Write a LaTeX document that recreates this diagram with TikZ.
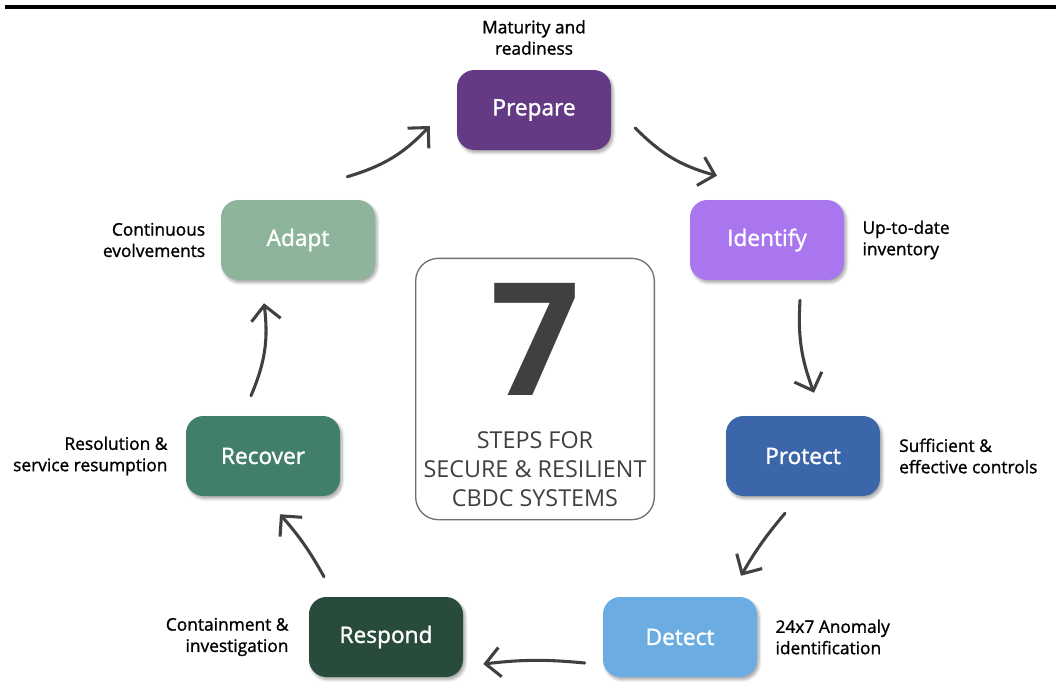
\documentclass[tikz,border=0pt]{standalone}
\usepackage{fontspec}
\setmainfont{Open Sans}
\newfontfamily\semib[FakeBold=1.3]{Open Sans}
\usepackage{tikz}
\usetikzlibrary{positioning}
\usetikzlibrary{calc}
\usetikzlibrary{arrows.meta}
\usetikzlibrary{shadows.blur}
\usepackage{xcolor}

\definecolor{cPrepare}{RGB}{100,58,132}
\definecolor{cIdentify}{RGB}{170,118,240}
\definecolor{cProtect}{RGB}{59,103,170}
\definecolor{cDetect}{RGB}{107,173,226}
\definecolor{cRespond}{RGB}{40,75,60}
\definecolor{cRecover}{RGB}{66,127,106}
\definecolor{cAdapt}{RGB}{142,180,156}
\definecolor{cArrow}{RGB}{64,64,64}
\definecolor{cFrame}{RGB}{112,112,112}

\tikzset{
  stepbox/.style={rounded corners=13pt, minimum width=115.5pt, minimum height=60pt,
    text=white, font=\semib\fontsize{17}{19}\selectfont,
    blur shadow={shadow xshift=1.5pt, shadow yshift=-2pt, shadow blur steps=6, shadow opacity=35}},
  note/.style={font=\semib\fontsize{13}{16}\selectfont, inner sep=0pt},
  cycle/.style={draw=cArrow, line width=2.3pt, line cap=round,
    -{Straight Barb[length=11pt, width=22pt, line width=2.3pt]}},
}

\begin{document}
\begin{tikzpicture}[x=0.75pt,y=0.75pt,yscale=-1,xscale=1]
\useasboundingbox (0,0) rectangle (1056,693);

%Straight Lines (top rule)
\draw [line width=2.4pt] (5,7) -- (1056,7) ;

%Shape: Rounded Rect (centre)
\node [draw=cFrame, line width=1pt, rounded corners=17pt, minimum width=179pt, minimum height=196pt] (centre) at (535,389) {};
% Text Node
\node [text=cArrow, font=\fontsize{118}{118}\selectfont\bfseries, inner sep=0pt] (seven) at (535,339) {7};
% Text Node
\node [text=cArrow, font=\fontsize{17.5}{21.75}\selectfont, align=center, inner sep=0pt] (steps) at (535,469) {STEPS FOR\\SECURE \& RESILIENT\\CBDC SYSTEMS};

%Shape: Rounded Rect (steps)
\node [stepbox, fill=cPrepare] (prepare) at (534,110) {Prepare};
\node [stepbox, fill=cIdentify] (identify) at (767,240) {Identify};
\node [stepbox, fill=cProtect] (protect) at (803,456) {Protect};
\node [stepbox, fill=cDetect] (detect) at (680,637) {Detect};
\node [stepbox, fill=cRespond] (respond) at (386,637) {Respond};
\node [stepbox, fill=cRecover] (recover) at (263,456) {Recover};
\node [stepbox, fill=cAdapt] (adapt) at (298,240) {Adapt};

% Text Node
\node [note, align=center, above=11pt of prepare] (lprepare) {Maturity and\\readiness};
% Text Node
\node [note, align=left, right=13.5pt of identify] (lidentify) {Up-to-date\\inventory};
% Text Node
\node [note, align=left, right=14pt of protect] (lprotect) {Sufficient \&\\effective controls};
% Text Node
\node [note, align=left, right=13.5pt of detect] (ldetect) {24x7 Anomaly\\identification};
% Text Node
\node [note, align=right, left=15pt of respond] (lrespond) {Containment \&\\investigation};
% Text Node
\node [note, align=right, left=13.5pt of recover] (lrecover) {Resolution \&\\service resumption};
% Text Node
\node [note, align=right, left=11.5pt of adapt] (ladapt) {Continuous\\evolvements};

%Curve Lines
\draw [cycle] ($(adapt.north east)+(-28,-23)$) to [bend left=15] ($(prepare.west)+(-27,16)$) ;
\draw [cycle] ($(prepare.east)+(24,18)$) to [bend left=15] ($(identify.north)+(-50,-24)$) ;
\draw [cycle] ($(identify.south)+(33,20)$) to [bend left=12] ($(protect.north)+(11,-23)$) ;
\draw [cycle] ($(protect.south)+(-18,17)$) to [bend left=5] ($(detect.north)+(61,-21)$) ;
\draw [cycle] ($(detect.west)+(-18,26)$) to [bend left=6] ($(respond.east)+(20,27)$) ;
\draw [cycle] ($(respond.north)+(-62,-20)$) to [bend left=6] ($(recover.south)+(17,18)$) ;
\draw [cycle] ($(recover.north)+(-12,-20)$) to [bend left=15] ($(adapt.south)+(-34,23)$) ;

\end{tikzpicture}
\end{document}
